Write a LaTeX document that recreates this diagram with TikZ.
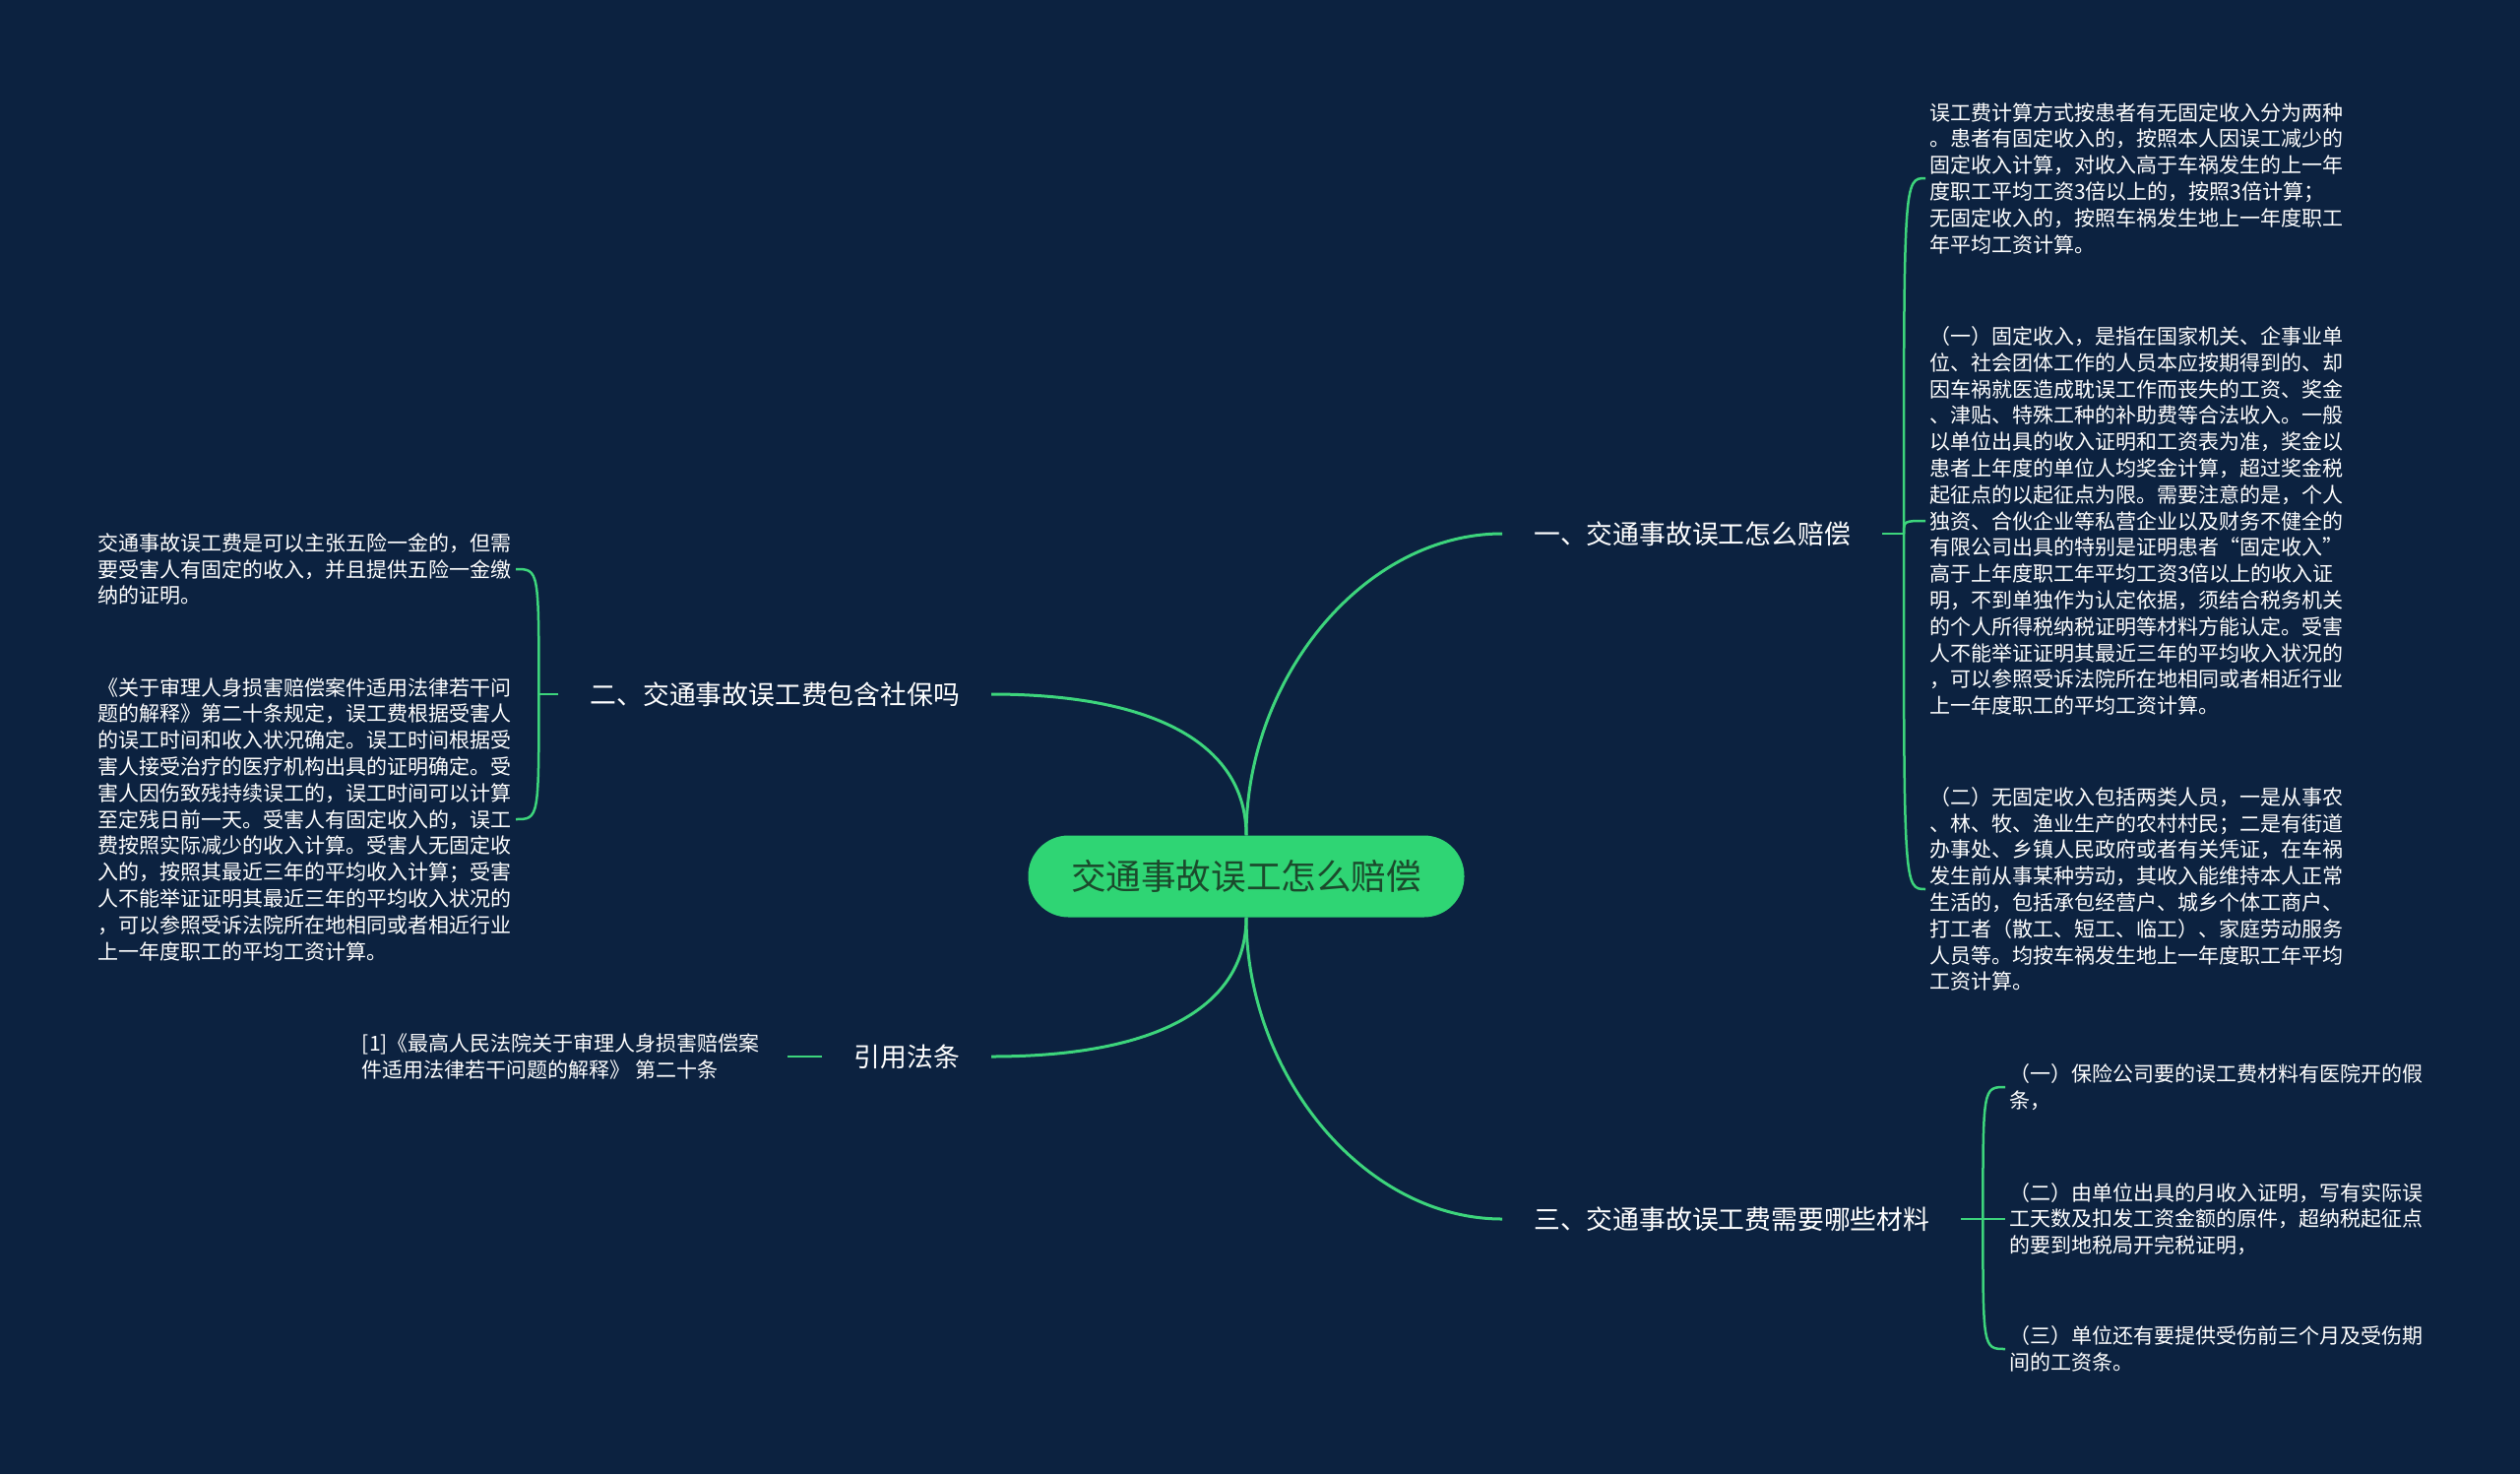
\documentclass[tikz,border=0pt]{standalone}
\usepackage{fontspec}
\newfontfamily\cjk{Noto Sans CJK SC}
\definecolor{BgNavy}{HTML}{0C2240}
\definecolor{MapGreen}{HTML}{3DD57C}
\definecolor{RootGreen}{HTML}{2FD574}
\definecolor{RootText}{HTML}{1B4A2C}
\usepackage{tikz}
\usetikzlibrary{positioning}

\begin{document}
\begin{tikzpicture}[
  x=1pt, y=-1pt,
  root/.style={fill=RootGreen, rounded corners=41pt, minimum width=443pt,
               minimum height=83pt, text=RootText,
               font=\cjk\fontsize{35.6}{40}\selectfont},
  branch/.style={text=white, inner xsep=32pt, inner ysep=6pt,
                 font=\cjk\fontsize{26.8}{30}\selectfont},
  leaf/.style={text=white, align=left, inner sep=4pt,
               font=\cjk\fontsize{21}{26.8}\selectfont},
  link/.style={draw=MapGreen, line width=3pt},
  twig/.style={draw=MapGreen, line width=2.5pt}
]
  % background
  \fill[BgNavy] (0,0) rectangle (2560,1497);

  % centre
  \node[root] (root) at (1266,890) {交通事故误工怎么赔偿};

  % main branches
  \node[branch, anchor=west] (pay)  at (1526,542)  {一、交通事故误工怎么赔偿};
  \node[branch, anchor=east] (ins)  at (1007,705)  {二、交通事故误工费包含社保吗};
  \node[branch, anchor=west] (docs) at (1526,1238) {三、交通事故误工费需要哪些材料};
  \node[branch, anchor=east] (law)  at (1007,1073) {引用法条};

  \coordinate[right=22pt of pay.east]  (payj);
  \coordinate[left=20pt of ins.west]   (insj);
  \coordinate[right=22pt of docs.east] (docsj);

  % leaves: 一
  \node[leaf, anchor=west] (pay1) at (1956,181) {误工费计算方式按患者有无固定收入分为两种\\。患者有固定收入的，按照本人因误工减少的\\固定收入计算，对收入高于车祸发生的上一年\\度职工平均工资3倍以上的，按照3倍计算；\\无固定收入的，按照车祸发生地上一年度职工\\年平均工资计算。};
  \node[leaf, anchor=west] (pay2) at (1956,529) {（一）固定收入，是指在国家机关、企事业单\\位、社会团体工作的人员本应按期得到的、却\\因车祸就医造成耽误工作而丧失的工资、奖金\\、津贴、特殊工种的补助费等合法收入。一般\\以单位出具的收入证明和工资表为准，奖金以\\患者上年度的单位人均奖金计算，超过奖金税\\起征点的以起征点为限。需要注意的是，个人\\独资、合伙企业等私营企业以及财务不健全的\\有限公司出具的特别是证明患者“固定收入”\\高于上年度职工年平均工资3倍以上的收入证\\明，不到单独作为认定依据，须结合税务机关\\的个人所得税纳税证明等材料方能认定。受害\\人不能举证证明其最近三年的平均收入状况的\\，可以参照受诉法院所在地相同或者相近行业\\上一年度职工的平均工资计算。};
  \node[leaf, anchor=west] (pay3) at (1956,903) {（二）无固定收入包括两类人员，一是从事农\\、林、牧、渔业生产的农村村民；二是有街道\\办事处、乡镇人民政府或者有关凭证，在车祸\\发生前从事某种劳动，其收入能维持本人正常\\生活的，包括承包经营户、城乡个体工商户、\\打工者（散工、短工、临工）、家庭劳动服务\\人员等。均按车祸发生地上一年度职工年平均\\工资计算。};

  % leaves: 二
  \node[leaf, anchor=east] (ins1) at (524,578) {交通事故误工费是可以主张五险一金的，但需\\要受害人有固定的收入，并且提供五险一金缴\\纳的证明。};
  \node[leaf, anchor=east] (ins2) at (524,832) {《关于审理人身损害赔偿案件适用法律若干问\\题的解释》第二十条规定，误工费根据受害人\\的误工时间和收入状况确定。误工时间根据受\\害人接受治疗的医疗机构出具的证明确定。受\\害人因伤致残持续误工的，误工时间可以计算\\至定残日前一天。受害人有固定收入的，误工\\费按照实际减少的收入计算。受害人无固定收\\入的，按照其最近三年的平均收入计算；受害\\人不能举证证明其最近三年的平均收入状况的\\，可以参照受诉法院所在地相同或者相近行业\\上一年度职工的平均工资计算。};

  % leaves: 三
  \node[leaf, anchor=west] (docs1) at (2037,1104) {（一）保险公司要的误工费材料有医院开的假\\条，};
  \node[leaf, anchor=west] (docs2) at (2037,1238) {（二）由单位出具的月收入证明，写有实际误\\工天数及扣发工资金额的原件，超纳税起征点\\的要到地税局开完税证明，};
  \node[leaf, anchor=west] (docs3) at (2037,1370) {（三）单位还有要提供受伤前三个月及受伤期\\间的工资条。};

  % leaf: 引用法条
  \node[leaf, anchor=east, inner xsep=28pt] (law1) at (800,1073) {[1]《最高人民法院关于审理人身损害赔偿案\\件适用法律若干问题的解释》 第二十条};

  % centre -> branches
  \draw[link] (root.north) .. controls +(0,-160) and +(-140,0) .. (pay.west);
  \draw[link] (root.north) .. controls +(0,-90) and +(170,0) .. (ins.east);
  \draw[link] (root.south) .. controls +(0,160) and +(-140,0) .. (docs.west);
  \draw[link] (root.south) .. controls +(0,90) and +(170,0) .. (law.east);

  % branches -> leaves
  \draw[twig] (pay.east) -- (payj);
  \foreach \n in {pay1,pay2,pay3}
    \draw[twig] (payj) .. controls (payj |- \n.west) .. (\n.west);
  \draw[twig] (ins.west) -- (insj);
  \foreach \n in {ins1,ins2}
    \draw[twig] (insj) .. controls (insj |- \n.east) .. (\n.east);
  \draw[twig] (docs.east) -- (docsj);
  \foreach \n in {docs1,docs2,docs3}
    \draw[twig] (docsj) .. controls (docsj |- \n.west) .. (\n.west);
  \draw[twig] (law.west) -- (law1.east);
\end{tikzpicture}
\end{document}
